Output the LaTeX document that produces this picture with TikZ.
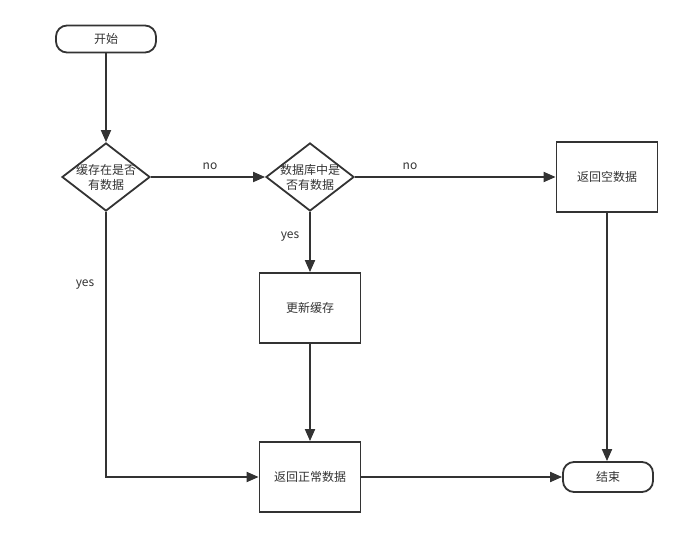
\documentclass[tikz,border=0pt]{standalone}
\usepackage{fontspec}
\setmainfont{Noto Sans CJK SC}
\usepackage{xcolor}
\usepackage{tikz}
\usetikzlibrary{arrows.meta,shapes.geometric}
\definecolor{linec}{HTML}{333333}
\definecolor{textc}{HTML}{333333}
\tikzset{
  ar/.style={-{Triangle[length=12pt,width=10pt]},line width=1.8pt,linec},
  term/.style={draw=linec,line width=1.8pt,rounded corners=11pt,minimum width=100pt,minimum height=27pt,inner sep=0pt,font=\fontsize{12}{14}\selectfont,text=textc},
  box/.style={draw=linec,line width=1.8pt,minimum width=101pt,minimum height=70pt,inner sep=0pt,font=\fontsize{12}{14}\selectfont,text=textc},
  dec/.style={diamond,draw=linec,line width=1.8pt,aspect=1.29,minimum width=88pt,minimum height=68pt,inner sep=0pt},
  dtxt/.style={align=center,font=\fontsize{12}{15}\selectfont,text=textc},
  lbl/.style={font=\fontsize{12}{14}\selectfont,text=textc}
}
\begin{document}
\begin{tikzpicture}[x=1pt,y=-1pt]
\useasboundingbox (0,0) rectangle (683,537);
% shapes
\node[term] (start) at (106,39) {开始};
\node[dec,label={[dtxt]center:缓存在是否\\有数据}] (hasc) at (106,177) {};
\node[dec,label={[dtxt]center:数据库中是\\否有数据}] (hasdb) at (310,177) {};
\node[box] (empty) at (607,177) {返回空数据};
\node[box] (upd) at (310,308) {更新缓存};
\node[box] (ok) at (310,477) {返回正常数据};
\node[term,minimum width=90pt,minimum height=30pt] (stop) at (608,477) {结束};
% connectors
\draw[ar] (start) -- (hasc);
\draw[ar] (hasc) -- (hasdb);
\draw[ar] (hasdb) -- (empty);
\draw[ar] (hasdb) -- (upd);
\draw[ar] (upd) -- (ok);
\draw[ar] (hasc.south) |- (ok.west);
\draw[ar] (ok) -- (stop);
\draw[ar] (empty.south) -- (empty.south |- stop.north);
% labels
\node[lbl] at (210,166) {no};
\node[lbl] at (410,166) {no};
\node[lbl] at (290,237) {yes};
\node[lbl] at (85,285) {yes};
\end{tikzpicture}
\end{document}
